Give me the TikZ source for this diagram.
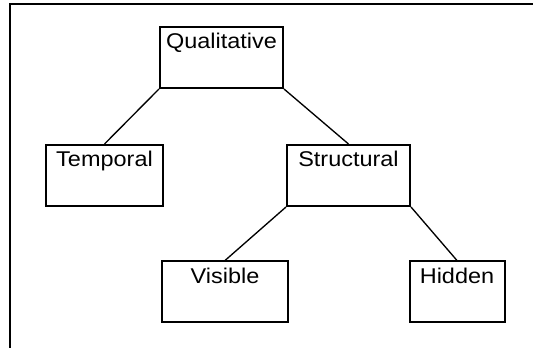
\documentclass[tikz,border=0pt]{standalone}
\usepackage{fontspec}
\newfontfamily\boxfont{Liberation Sans}[FakeStretch=1.1]
\usetikzlibrary{positioning}

\begin{document}
\begin{tikzpicture}[x=0.75pt, y=-0.75pt,
	box/.style={draw, line width=1.5pt, minimum height=45.75pt, inner ysep=0pt, text height=16.5pt, text depth=29.25pt, font=\boxfont\fontsize{16}{18}\selectfont},
	link/.style={line width=1pt}]
	\useasboundingbox (0,0) rectangle (533,348);

	% outer frame (only top and left edges)
	\coordinate (frametl) at (10,4);
	\draw[line width=1.5pt] (10,348) -- (frametl) -- (533,4);

	% hierarchy boxes
	\node[box,minimum width=92.25pt] (qual) at (221.5,57.5) {Qualitative};
	\node[box,minimum width=87.75pt] (temporal) at (104.5,175.5) {Temporal};
	\node[box,minimum width=92.25pt] (structural) at (348.5,175.5) {Structural};
	\node[box,minimum width=94.5pt] (visible) at (225,292) {Visible};
	\node[box,minimum width=71.25pt] (hidden) at (457,292) {Hidden};

	% branches
	\draw[link] (qual.south west) -- (temporal.north);
	\draw[link] (qual.south east) -- (structural.north);
	\draw[link] (structural.south west) -- (visible.north);
	\draw[link] (structural.south east) -- (hidden.north);
\end{tikzpicture}
\end{document}
